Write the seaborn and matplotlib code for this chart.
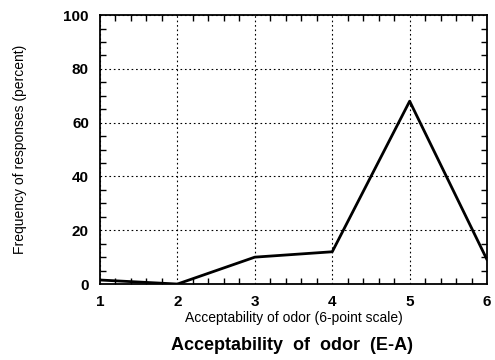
import matplotlib
matplotlib.use("Agg")
import matplotlib.pyplot as plt
from matplotlib.ticker import MultipleLocator
import seaborn as sns
import pandas as pd

scale_points = [1, 2, 3, 4, 5, 6]
frequency_pct = [1.5, 0, 10, 12, 68, 9]
x_ticks = [1, 2, 3, 4, 5, 6]
y_ticks = [0, 20, 40, 60, 80, 100]

sns.set_style("white")
plt.rcParams['font.family'] = ['Liberation Sans', 'DejaVu Sans']
plt.rcParams.update({"text.color": "black", "axes.labelcolor": "black",
                     "xtick.color": "black", "ytick.color": "black"})

df = pd.DataFrame({"scale": scale_points, "freq": frequency_pct})

fig = plt.figure(figsize=(4.95, 3.6), dpi=100)
ax = fig.add_axes([0.202, 0.211, 0.782, 0.747])
sns.lineplot(data=df, x="scale", y="freq", ax=ax, color="black", linewidth=2)

ax.set_xlim(1, 6)
ax.set_ylim(0, 100)
ax.set_xticks(x_ticks)
ax.set_yticks(y_ticks)
ax.xaxis.set_minor_locator(MultipleLocator(0.2))
ax.yaxis.set_minor_locator(MultipleLocator(5))
ax.tick_params(which="both", direction="in", top=True, right=True, bottom=True, left=True,
               color="black", width=1, labelcolor="black")
ax.tick_params(which="major", length=0, pad=8, labelsize=11)
ax.tick_params(which="minor", length=4)
for lab in ax.get_xticklabels() + ax.get_yticklabels():
    lab.set_fontweight("bold")
ax.grid(True, which="major", linestyle=(0, (1.5, 2.5)), color="black", linewidth=0.8)
for s in ax.spines.values():
    s.set_color("black")
    s.set_linewidth(1.3)

ax.set_xlabel("Acceptability of odor (6-point scale)", fontsize=10, labelpad=1, color="black")
ax.set_ylabel("Frequency of responses (percent)", fontsize=10, labelpad=26, color="black")
fig.text(0.59, 0.04, "Acceptability  of  odor  (E-A)", ha="center", va="center",
         fontsize=13, fontweight="bold", color="black")

fig.savefig("out.png", dpi=100)
